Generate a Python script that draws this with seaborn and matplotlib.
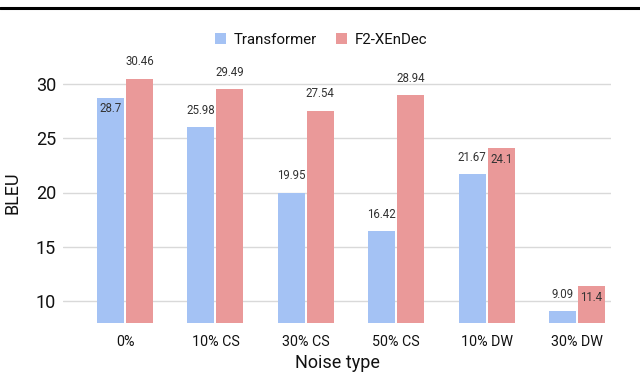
import matplotlib
matplotlib.use("Agg")
import matplotlib.pyplot as plt
import seaborn as sns
import pandas as pd
from matplotlib.lines import Line2D
from matplotlib.patches import Patch

categories = ["0%", "10% CS", "30% CS", "50% CS", "10% DW", "30% DW"]
transformer = [28.7, 25.98, 19.95, 16.42, 21.67, 9.09]
f2_xendec = [30.46, 29.49, 27.54, 28.94, 24.1, 11.4]
series_names = ["Transformer", "F2-XEnDec"]
yticks = [10, 15, 20, 25, 30]

df = pd.DataFrame({
    "Noise type": categories * 2,
    "BLEU": transformer + f2_xendec,
    "Model": [series_names[0]] * len(categories) + [series_names[1]] * len(categories),
})

sns.set_theme(style="white")
plt.rcParams["font.family"] = ["Roboto", "DejaVu Sans"]

colors = ["#a4c2f4", "#ea9999"]
fig = plt.figure(figsize=(6.4, 3.75), dpi=100)
ax = fig.add_axes([63 / 640, 1 - 323 / 375, (611 - 63) / 640, (323 - 62) / 375])

sns.barplot(data=df, x="Noise type", y="BLEU", hue="Model", palette=colors,
            width=0.64, gap=0.07, ax=ax, legend=False, saturation=1,
            edgecolor="none")

ax.set_ylim(8, 32)
ax.set_xlim(-0.686, 5.376)
ax.set_yticks(yticks)
ax.yaxis.grid(True, color="#d9d9d9", linewidth=1)
ax.set_axisbelow(True)
for s in ax.spines.values():
    s.set_visible(False)
ax.tick_params(axis="y", labelsize=13, colors="#111111", length=0, pad=5)
ax.tick_params(axis="x", labelsize=10.3, colors="#111111", length=0, pad=9)
ax.set_xlabel("Noise type", fontsize=13, color="#111111", labelpad=3)
ax.set_ylabel("BLEU", fontsize=13, color="#111111", labelpad=10)

# label placements: True = above the bar, False = just inside the top
above = [
    [False, True, True, True, True, True],
    [True, True, True, True, False, False],
]
for ci, cont in enumerate(ax.containers):
    vals = transformer if ci == 0 else f2_xendec
    for bi, patch in enumerate(cont.patches):
        xc = patch.get_x() + patch.get_width() / 2
        top = patch.get_height() + patch.get_y()
        off = 12.3 if above[ci][bi] else -8
        ax.annotate(f"{vals[bi]:g}", (xc, top), xytext=(0, off),
                    textcoords="offset points", ha="center", va="center",
                    fontsize=8.3, color="#333333")

handles = [Patch(facecolor=c, edgecolor="none") for c in colors]
fig.legend(handles, series_names, loc="center", bbox_to_anchor=(321 / 640, 1 - 40 / 375),
           ncol=2, frameon=False, fontsize=10.8, handlelength=0.75, handleheight=0.75,
           columnspacing=1.3, handletextpad=0.5, labelcolor="#111111")

fig.add_artist(Line2D([0, 1], [1 - 7.5 / 375, 1 - 7.5 / 375], color="black", linewidth=2.2,
                      transform=fig.transFigure))

fig.savefig("out.png", dpi=100)
